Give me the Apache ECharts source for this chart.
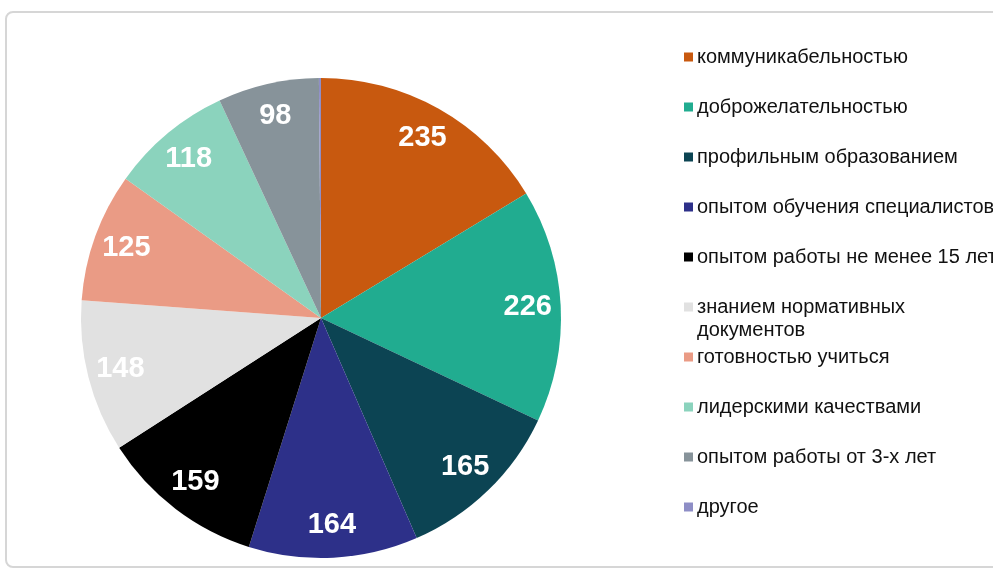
<!DOCTYPE html>
<html>
<head>
<meta charset="utf-8">
<script src="https://cdn.jsdelivr.net/npm/echarts@6/dist/echarts.min.js"></script>
<style>
  html, body { margin: 0; padding: 0; background: #fff; }
  #chart { width: 993px; height: 571px; }
</style>
</head>
<body>
<div id="chart"></div>
<script>
const categories = [
    'коммуникабельностью',
    'доброжелательностью',
    'профильным образованием',
    'опытом обучения специалистов',
    'опытом работы не менее 15 лет',
    'знанием нормативных документов',
    'готовностью учиться',
    'лидерскими качествами',
    'опытом работы от 3-х лет',
    'другое'
];
const values = [235, 226, 165, 164, 159, 148, 125, 118, 98, 2];
const colors = ['#C8590F', '#21AC90', '#0C4453', '#2D3089', '#000000',
                '#E1E1E1', '#EA9B85', '#8BD3BD', '#87939A', '#8E8EC6'];

const chart = echarts.init(document.getElementById('chart'));

const pieData = categories.map((name, i) => ({
    name: name,
    value: values[i],
    itemStyle: { color: colors[i] }
}));

const option = {
    animation: false,
    legend: {
        orient: 'vertical',
        left: 679,
        top: 42,
        itemWidth: 9,
        itemHeight: 9,
        itemGap: 30,
        icon: 'rect',
        selectedMode: false,
        data: categories,
        formatter: name => name === 'знанием нормативных документов' ? 'знанием нормативных' : name,
        textStyle: {
            fontFamily: 'Liberation Sans, Arial, sans-serif',
            fontSize: 20,
            lineHeight: 20,
            color: '#111111',
            padding: [0, 0, 0, -1]
        }
    },
    graphic: [
        {
            type: 'rect',
            shape: { x: 6, y: 12, width: 1000, height: 555, r: 7 },
            style: { fill: 'none', stroke: '#d6d6d6', lineWidth: 2 },
            z: -1
        },
        {
            type: 'text',
            left: 697,
            top: 320,
            style: {
                text: 'документов',
                fontFamily: 'Liberation Sans, Arial, sans-serif',
                fontSize: 20,
                fill: '#111111'
            }
        }
    ],
    series: [
        {
            type: 'pie',
            center: [321, 318],
            radius: [0, 240],
            startAngle: 90,
            clockwise: true,
            label: { show: false },
            labelLine: { show: false },
            emphasis: { disabled: true },
            data: pieData
        },
        {
            // transparent ring only to place value labels near the rim
            type: 'pie',
            center: [321, 318],
            radius: [168, 240],
            startAngle: 90,
            clockwise: true,
            silent: true,
            itemStyle: { color: 'rgba(0,0,0,0)' },
            emphasis: { disabled: true },
            labelLine: { show: false },
            label: {
                show: true,
                position: 'inside',
                formatter: p => p.value > 10 ? String(p.value) : '',
                color: '#ffffff',
                fontFamily: 'Liberation Sans Narrow, Liberation Sans, Arial, sans-serif',
                fontWeight: 'bold',
                fontSize: 29
            },
            data: categories.map((name, i) => ({ name: name, value: values[i] }))
        }
    ]
};

chart.setOption(option);
window.addEventListener('resize', () => chart.resize());
</script>
</body>
</html>
